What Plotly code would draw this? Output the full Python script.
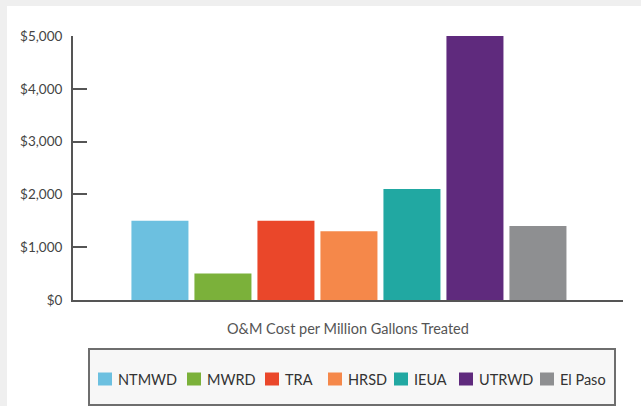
import plotly.graph_objects as go

categories = ["NTMWD", "MWRD", "TRA", "HRSD", "IEUA", "UTRWD", "El Paso"]
values = [1500, 500, 1500, 1300, 2100, 5000, 1400]
colors = ["#6cc0e0", "#7bb13a", "#ea472a", "#f5884a", "#21a8a2", "#5f2a7d", "#8e8f91"]
y_ticks = [0, 1000, 2000, 3000, 4000, 5000]
y_labels = ["$0", "$1,000", "$2,000", "$3,000", "$4,000", "$5,000"]
x_title = "O&M Cost per Million Gallons Treated"

# legend layout (pixel positions of swatch centres in the page)
legend_swatch_x = [105, 194, 272, 335, 401, 466, 547]
legend_y = 379

fig = go.Figure()
for i, (c, v, col) in enumerate(zip(categories, values, colors)):
    fig.add_trace(go.Bar(x=[i], y=[v], name=c, marker=dict(color=col, line=dict(width=0)),
                         width=0.905, showlegend=False))

W, H = 641, 406
L, R, T, B = 73, 18, 36, 106
pw, ph = W - L - R, H - T - B

def px(x):
    return (x - L) / pw

def py(y):
    return (H - B - y) / ph

shapes = [
    dict(type="rect", xref="paper", yref="paper",
         x0=px(7), x1=px(641), y0=py(406), y1=py(6),
         fillcolor="white", line=dict(width=0), layer="below"),
    dict(type="rect", xref="paper", yref="paper",
         x0=px(89), x1=px(615), y0=py(405), y1=py(349),
         fillcolor="#f7f7f7", line=dict(width=2, color="#6e6e6e"), layer="below"),
]
annotations = [
    dict(text=x_title, xref="paper", yref="paper", x=px(348), y=py(328),
         xanchor="center", yanchor="middle", showarrow=False,
         font=dict(size=14.5, color="#555555")),
]
for name, col, sx in zip(categories, colors, legend_swatch_x):
    shapes.append(dict(type="rect", xref="paper", yref="paper",
                       x0=px(sx - 7), x1=px(sx + 7), y0=py(legend_y + 6.5), y1=py(legend_y - 6.5),
                       fillcolor=col, line=dict(width=0), layer="above"))
    annotations.append(dict(text=name, xref="paper", yref="paper", x=px(sx + 11), y=py(legend_y),
                            xanchor="left", yanchor="middle", showarrow=False,
                            font=dict(size=14.5, color="#333333")))

fig.update_layout(
    width=W, height=H,
    margin=dict(l=L, r=R, t=T, b=B, pad=0),
    paper_bgcolor="#efefef",
    plot_bgcolor="rgba(0,0,0,0)",
    barmode="overlay",
    font=dict(family="Lato, sans-serif", color="#444444", size=12),
    showlegend=False,
    xaxis=dict(
        range=[-1.38, 7.35],
        showticklabels=False, ticks="",
        showgrid=False, zeroline=False, automargin=False,
        showline=True, linecolor="#555555", linewidth=2,
    ),
    yaxis=dict(
        range=[0, 5000],
        tickvals=y_ticks, ticktext=y_labels,
        ticks="inside", ticklen=14, tickwidth=2, tickcolor="#555555",
        showgrid=False, zeroline=False, automargin=False,
        showline=True, linecolor="#555555", linewidth=2,
        tickfont=dict(size=13.5, color="#444444"),
        ticklabelstandoff=6,
    ),
    shapes=shapes,
    annotations=annotations,
)

fig.write_html("out.html")
